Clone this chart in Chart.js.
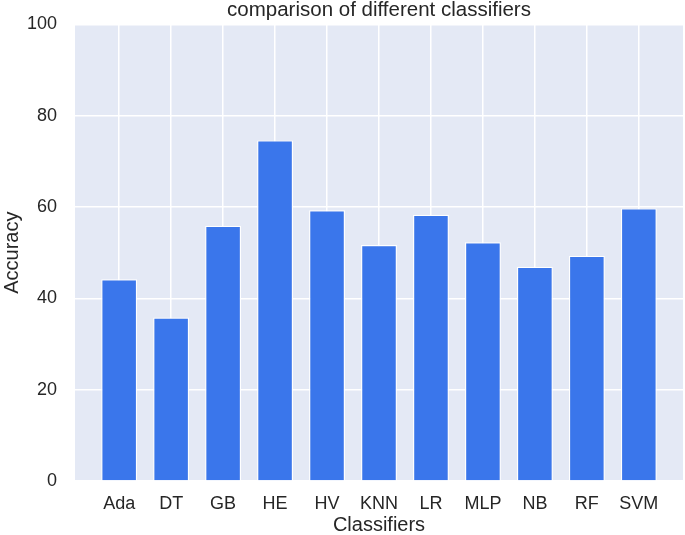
<!DOCTYPE html>
<html>
<head>
<meta charset="utf-8">
<script src="https://cdn.jsdelivr.net/npm/chart.js@4.4.1/dist/chart.umd.min.js"></script>
<style>
  body { margin: 0; background: #fff; }
  canvas { display: block; }
</style>
</head>
<body>
<canvas id="chart" width="685" height="535"></canvas>
<script>
let classifiers = ["Ada", "DT", "GB", "HE", "HV", "KNN", "LR", "MLP", "NB", "RF", "SVM"];
let accuracy = [44.2, 35.8, 55.9, 74.6, 59.3, 51.7, 58.3, 52.3, 46.9, 49.3, 59.7];
let yTicks = [0, 20, 40, 60, 80, 100];
let chartTitle = "comparison of different classifiers";

const FONT = "'Liberation Sans', Arial, Helvetica, sans-serif";
const TEXT = "#262626";

// seaborn-like plot background + title drawn above the plot
const plotBackground = {
  id: "plotBackground",
  beforeDraw(chart) {
    let { ctx, chartArea } = chart;
    ctx.save();
    ctx.fillStyle = "#E4E9F5";
    ctx.fillRect(chartArea.left, chartArea.top, chartArea.width, chartArea.height);
    ctx.restore();
  },
  afterDraw(chart) {
    let { ctx, chartArea } = chart;
    ctx.save();
    ctx.fillStyle = TEXT;
    ctx.font = "20.5px " + FONT;
    ctx.textAlign = "center";
    ctx.textBaseline = "alphabetic";
    ctx.fillText(chartTitle, (chartArea.left + chartArea.right) / 2, 16);
    ctx.restore();
  },
};

let points = classifiers.map((name, i) => ({ x: i, y: accuracy[i] }));

new Chart(document.getElementById("chart"), {
  type: "bar",
  data: {
    datasets: [
      {
        data: points,
        backgroundColor: "#3A76EB",
        borderColor: "#FFFFFF",
        borderWidth: 1.2,
        barPercentage: 0.69,
        categoryPercentage: 1,
      },
    ],
  },
  options: {
    responsive: false,
    animation: false,
    layout: { padding: { left: 0, right: 2, top: 24.4, bottom: 0 } },
    plugins: {
      legend: { display: false },
      tooltip: { enabled: false },
    },
    scales: {
      x: {
        type: "linear",
        offset: false,
        min: -0.85,
        max: classifiers.length - 1 + 0.85,
        afterBuildTicks: (scale) => {
          scale.ticks = classifiers.map((c, i) => ({ value: i }));
        },
        afterFit: (scale) => {
          scale.height = 54;
          scale.paddingLeft = 0;
          scale.paddingRight = 0;
        },
        ticks: {
          callback: (v) => classifiers[v] ?? "",
          color: TEXT,
          font: { family: FONT, size: 18 },
          padding: 12,
          maxRotation: 0,
          autoSkip: false,
        },
        grid: { color: "#FFFFFF", lineWidth: 1.5, drawTicks: false, offset: false },
        border: { display: false },
        title: {
          display: true,
          text: "Classifiers",
          color: TEXT,
          font: { family: FONT, size: 20 },
          padding: { top: 0, bottom: -2 },
        },
      },
      y: {
        min: 0,
        max: 100,
        afterBuildTicks: (scale) => {
          scale.ticks = yTicks.map((v) => ({ value: v }));
        },
        afterFit: (scale) => {
          scale.width = 75;
          scale.paddingTop = 0;
          scale.paddingBottom = 0;
        },
        ticks: {
          color: TEXT,
          font: { family: FONT, size: 18 },
          padding: 18,
        },
        grid: { color: "#FFFFFF", lineWidth: 1.5, drawTicks: false },
        border: { display: false },
        title: {
          display: true,
          text: "Accuracy",
          color: TEXT,
          font: { family: FONT, size: 20 },
          padding: 0,
        },
      },
    },
  },
  plugins: [plotBackground],
});
</script>
</body>
</html>
